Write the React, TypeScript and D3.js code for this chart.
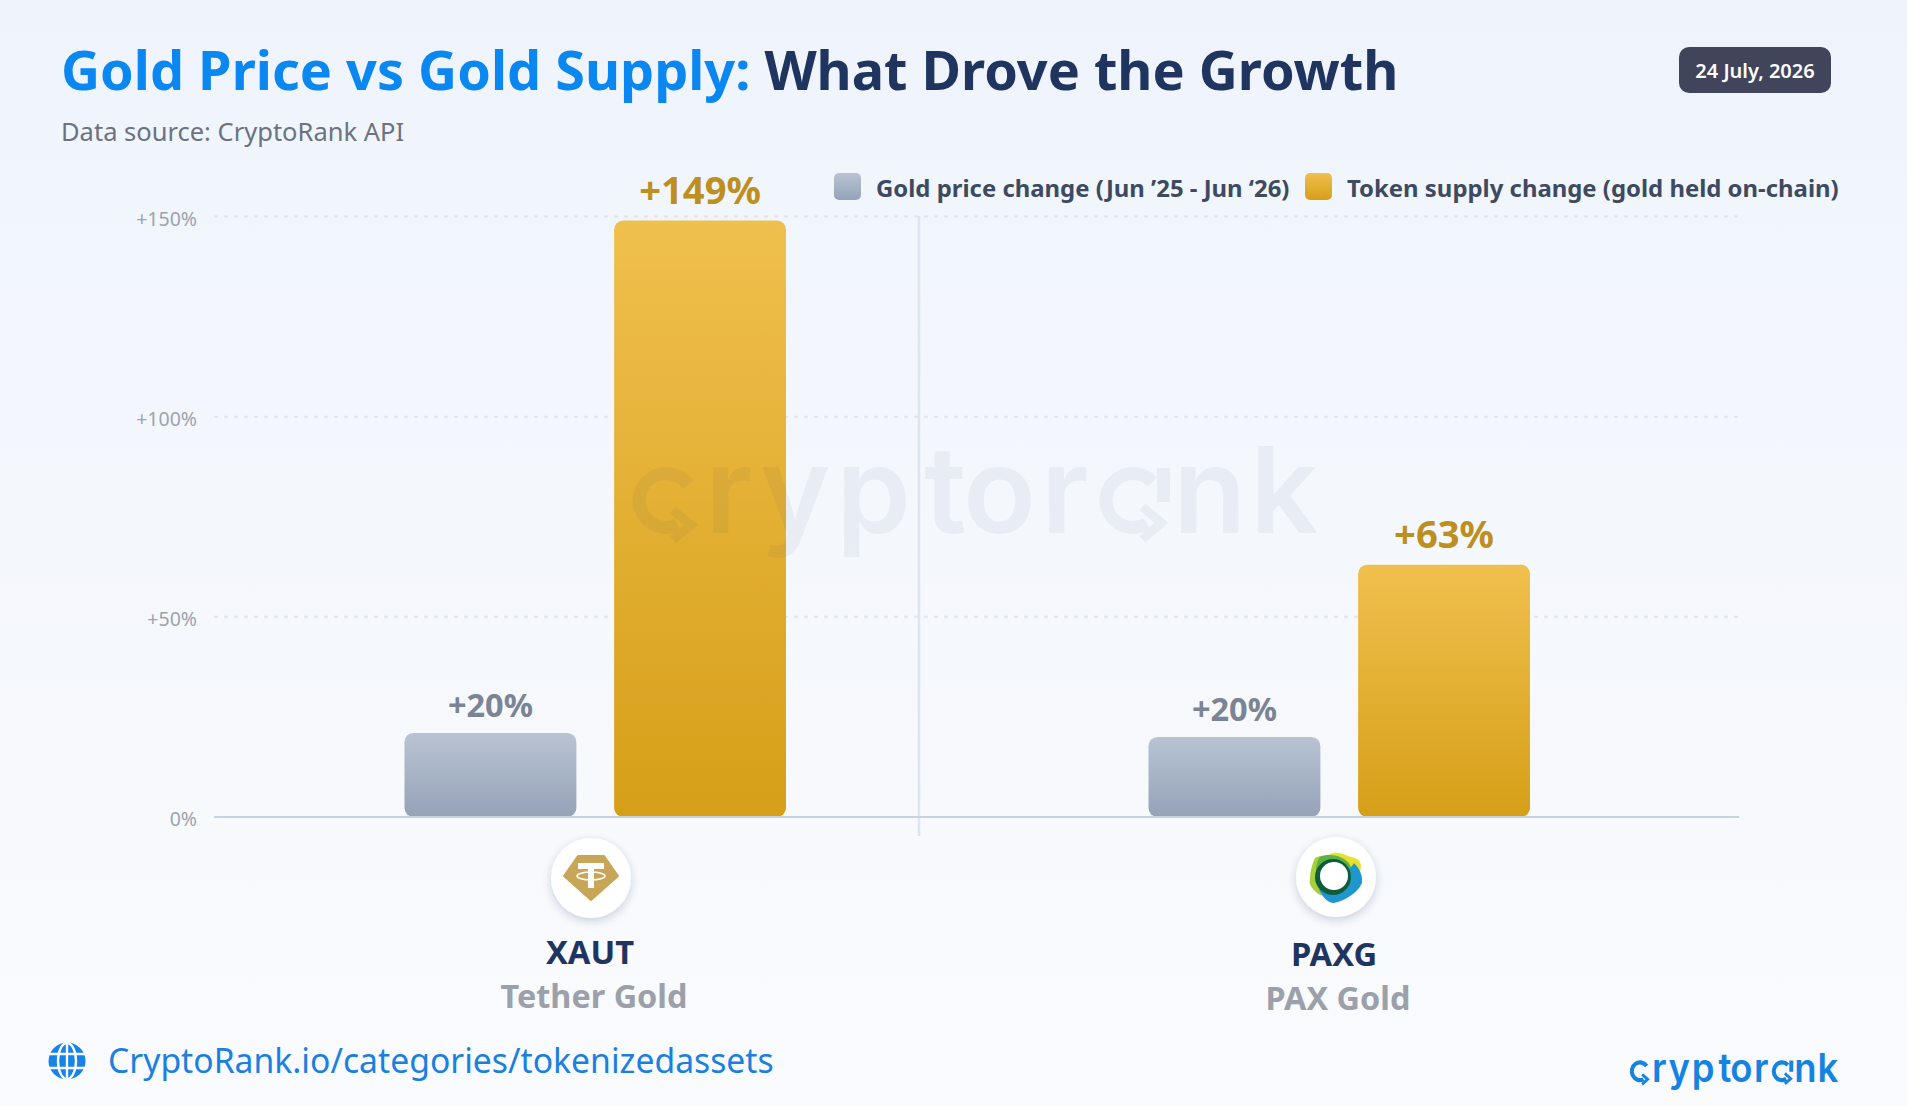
import * as d3 from 'd3';

const WIDTH = 1907;
const HEIGHT = 1106;
const FONT = '"Noto Sans", sans-serif';

const TOKENS = ['XAUT', 'PAXG'];
const TOKEN_NAMES = ['Tether Gold', 'PAX Gold'];
const SERIES = ['price', 'supply'];
const PRICE_CHANGE = [21, 20];
const SUPPLY_CHANGE = [149, 63];
const PRICE_LABELS = ['+20%', '+20%'];
const SUPPLY_LABELS = ['+149%', '+63%'];
const Y_TICKS = [0, 50, 100, 150];
const Y_TICK_LABELS = ['0%', '+50%', '+100%', '+150%'];

const y = d3.scaleLinear().domain([0, 150]).range([817, 216.5]);
const xGroup = d3.scaleBand().domain(TOKENS).range([223, 1711]);
const xBar = d3.scaleBand().domain(SERIES).range([-190.5, 191]).paddingInner(0.18);

const GLOBE_LINES = 'M-18 -7H18M-18 7H18M0 -18V18';

function Arrow({ x, y: cy, size }: { x: number; y: number; size: number }) {
  return (
    <path
      d={`M${x - size * 0.6} ${cy - size}L${x + size * 0.6} ${cy}L${x - size * 0.6} ${cy + size}`}
      fill="none"
      stroke="currentColor"
      strokeWidth={9}
    />
  );
}

// logo is drawn at watermark size and scaled down for the footer
function Logo({ transform, color, opacity, weight }: { transform: string; color: string; opacity: number; weight: number }) {
  const letters = 'rypto' + 'r' + 'nk';
  const xs = [705, 760, 836, 924, 963, 1041, 1173, 1250];
  const ring = (start: number, end: number) =>
    d3.arc()({ innerRadius: 20.5, outerRadius: 33.5, startAngle: start, endAngle: end }) ?? '';
  return (
    <g transform={transform} style={{ color }} opacity={opacity}>
      <text
        x={xs.join(' ')}
        y={533}
        fontFamily="Inter, sans-serif"
        fontWeight={weight}
        fontSize={120}
        fill={color}
      >
        {letters}
      </text>
      <path d={ring(2.7, Math.PI * 2 + 0.95)} transform="translate(666,500.5)" fill={color} />
      <Arrow x={682} y={525} size={15} />
      <path d={ring(2.6, Math.PI * 2 + 0.8)} transform="translate(1133,500.5)" fill={color} />
      <rect x={1157} y={468} width={13} height={34} fill={color} />
      <Arrow x={1152} y={523} size={16} />
    </g>
  );
}

function TetherIcon() {
  return (
    <g>
      <path d="M-13 -22H13L27 -2L0 22L-27 -2Z" fill="#C9A557" stroke="#C9A557" strokeWidth={2} strokeLinejoin="round" />
      <path d="M-13 -15H13V-9H3V10H-3V-9H-13Z" fill="#fff" />
      <ellipse cx={0} cy={-2} rx={14} ry={4} fill="none" stroke="#fff" strokeWidth={1.6} />
    </g>
  );
}

function PaxIcon() {
  return (
    <g>
      <path d="M-10 -20C-4 -26 4 -25 12 -21C18 -19 25 -19 25 -10C24 -2 18 6 8 8C-8 8 -18 -12 -10 -20Z" fill="#E3E22E" />
      <path d="M-21 -19C-14 -23 -6 -21 8 -18C14 8 -4 20 -16 18C-22 14 -28 8 -26 2C-26 -6 -24 -12 -21 -19Z" fill="#A9CE3B" />
      <path d="M-16 -20C-8 -24 8 -22 14 -12C20 0 10 14 -4 14C-20 10 -24 -8 -16 -20Z" fill="#5FB045" />
      <path d="M18 -14C23 -9 27 -2 26 6C22 16 8 24 -2 26C-8 26 -14 20 -17 12C-6 8 12 -4 18 -14Z" fill="#2096CF" />
      <circle cx={-3} cy={0} r={18} fill="#0E5D3A" />
      <circle cx={-2} cy={-1} r={14} fill="#fff" />
    </g>
  );
}

export default function App() {
  const bw = xBar.bandwidth();
  const icons = [
    { x: 591, y: 878, Icon: TetherIcon, tx: 590, ty: 964, nx: 594, ny: 1008 },
    { x: 1336, y: 877, Icon: PaxIcon, tx: 1334, ty: 966, nx: 1338, ny: 1010 },
  ];

  return (
    <svg
      width={WIDTH}
      height={HEIGHT}
      viewBox={`0 0 ${WIDTH} ${HEIGHT}`}
      style={{ position: 'fixed', left: 0, top: 0, display: 'block' }}
      fontFamily={FONT}
    >
      <defs>
        <linearGradient id="bg" x1="0" y1="0" x2="0" y2="1">
          <stop offset="0" stopColor="#EFF4FC" />
          <stop offset="1" stopColor="#FAFBFD" />
        </linearGradient>
        <linearGradient id="grad-price" x1="0" y1="0" x2="0" y2="1">
          <stop offset="0" stopColor="#B9C3D3" />
          <stop offset="1" stopColor="#95A2B8" />
        </linearGradient>
        <linearGradient id="grad-supply" x1="0" y1="0" x2="0" y2="1">
          <stop offset="0" stopColor="#F0C04E" />
          <stop offset="1" stopColor="#D69F18" />
        </linearGradient>
        <filter id="icon-shadow" x="-30%" y="-30%" width="160%" height="160%">
          <feDropShadow dx="0" dy="3" stdDeviation="4" floodColor="#1F3560" floodOpacity="0.22" />
        </filter>
      </defs>

      <rect width={WIDTH} height={HEIGHT} fill="url(#bg)" />

      <text x={61} y={90} fontSize={54} fontWeight={700}>
        <tspan fill="#0B87F2">Gold Price vs Gold Supply: </tspan>
        <tspan fill="#1F3560">What Drove the Growth</tspan>
      </text>
      <text x={61} y={141} fontSize={25.5} fill="#6B7280">
        Data source: CryptoRank API
      </text>

      <rect x={1679} y={47} width={152} height={46} rx={10} fill="#40455C" />
      <text x={1755} y={78} textAnchor="middle" fontSize={20} fontWeight={600} fill="#fff">
        24 July, 2026
      </text>

      <rect x={834} y={173} width={27} height={27} rx={5} fill="url(#grad-price)" />
      <text x={876} y={197} fontSize={23.9} fontWeight={700} fill="#3D4A60">
        Gold price change (Jun ’25 - Jun ‘26)
      </text>
      <rect x={1305} y={173} width={27} height={27} rx={5} fill="url(#grad-supply)" />
      <text x={1347} y={197} fontSize={23.9} fontWeight={700} fill="#3D4A60">
        Token supply change (gold held on-chain)
      </text>

      {Y_TICKS.map((tick, i) => (
        <g key={tick}>
          {tick > 0 && (
            <line x1={214} x2={1739} y1={y(tick)} y2={y(tick)} stroke="#DDE5F0" strokeWidth={2} strokeDasharray="4 6" />
          )}
          <text x={197} y={y(tick) + 9} textAnchor="end" fontSize={19.5} fill="#9CA3AF">
            {Y_TICK_LABELS[i]}
          </text>
        </g>
      ))}

      <line x1={919} x2={919} y1={216} y2={836} stroke="#DFE5EE" strokeWidth={2.5} />

      {TOKENS.map((token, i) => {
        const center = (xGroup(token) ?? 0) + xGroup.bandwidth() / 2;
        const priceX = center + (xBar('price') ?? 0);
        const supplyX = center + (xBar('supply') ?? 0);
        return (
          <g key={token}>
            <rect x={priceX} y={y(PRICE_CHANGE[i])} width={bw} height={y(0) - y(PRICE_CHANGE[i])} rx={9} fill="url(#grad-price)" />
            <rect x={supplyX} y={y(SUPPLY_CHANGE[i])} width={bw} height={y(0) - y(SUPPLY_CHANGE[i])} rx={9} fill="url(#grad-supply)" />
            <text x={priceX + bw / 2} y={y(PRICE_CHANGE[i]) - 16} textAnchor="middle" fontSize={32.5} fontWeight={700} fill="#7B8494">
              {PRICE_LABELS[i]}
            </text>
            <text x={supplyX + bw / 2} y={y(SUPPLY_CHANGE[i]) - 17} textAnchor="middle" fontSize={38.2} fontWeight={700} fill="#BD8F1F">
              {SUPPLY_LABELS[i]}
            </text>
          </g>
        );
      })}

      <line x1={214} x2={1739} y1={y(0)} y2={y(0)} stroke="#C8D2E0" strokeWidth={2} />

      <Logo transform="" color="#1F3560" opacity={0.05} weight={600} />

      {TOKENS.map((token, i) => {
        const { x, y: cy, Icon, tx, ty, nx, ny } = icons[i];
        return (
          <g key={token}>
            <circle cx={x} cy={cy} r={40} fill="#fff" filter="url(#icon-shadow)" />
            <g transform={`translate(${x},${cy})`}>
              <Icon />
            </g>
            <text x={tx} y={ty} textAnchor="middle" fontSize={32.7} fontWeight={700} fill="#1F3560">
              {token}
            </text>
            <text x={nx} y={ny} textAnchor="middle" fontSize={32.4} fontWeight={700} fill="#9CA0AA">
              {TOKEN_NAMES[i]}
            </text>
          </g>
        );
      })}

      <g transform="translate(67,1061)">
        <circle r={18.5} fill="#1583EA" />
        <ellipse rx={9} ry={18} fill="none" stroke="#FAFBFD" strokeWidth={2.4} />
        <path d={GLOBE_LINES} fill="none" stroke="#FAFBFD" strokeWidth={2.4} />
      </g>
      <text x={108} y={1073} fontSize={33.7} fill="#1A80E0">
        CryptoRank.io/categories/tokenizedassets
      </text>

      <Logo transform="translate(1630,1082) scale(0.304,0.33) translate(-633,-533)" color="#1583E0" opacity={1} weight={600} />
    </svg>
  );
}
